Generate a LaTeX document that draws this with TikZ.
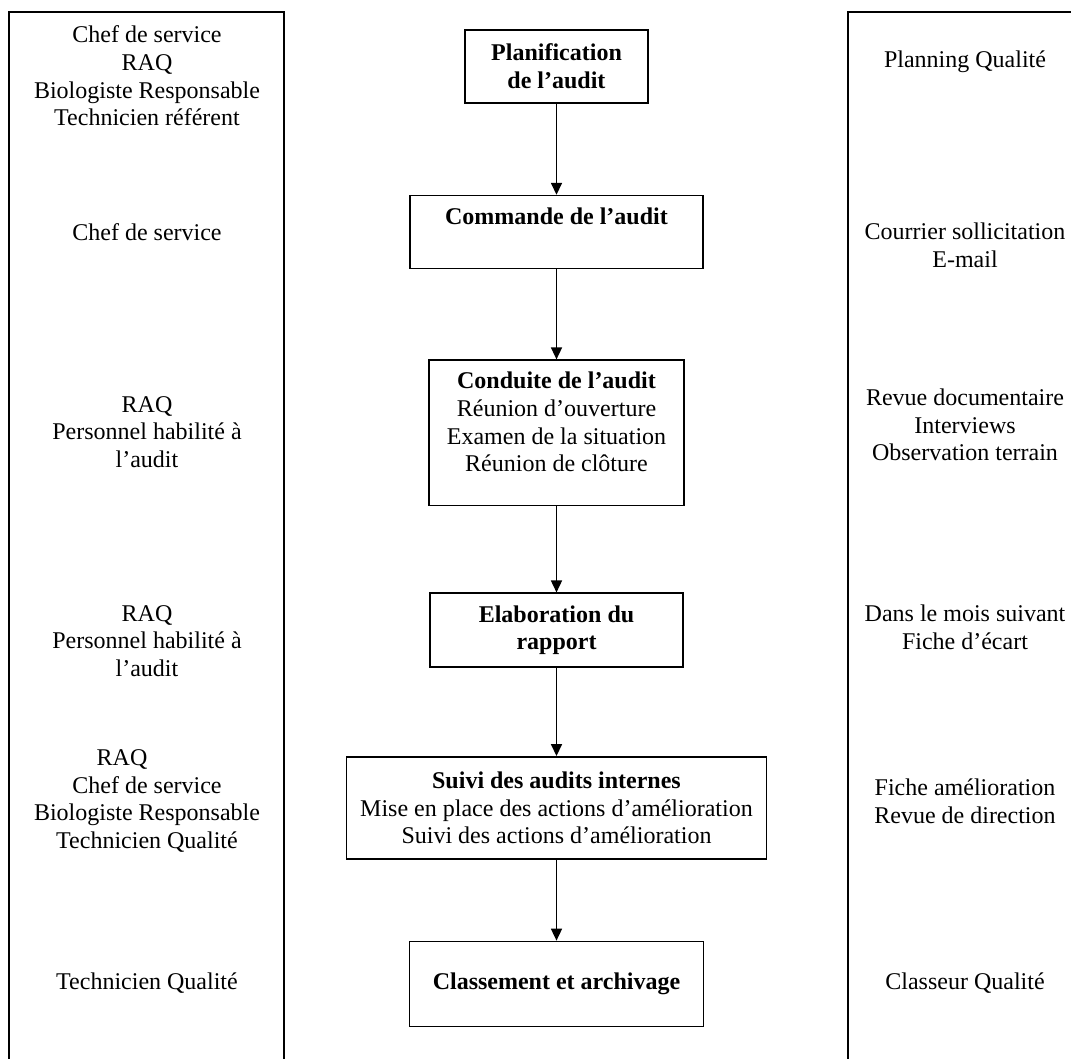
\documentclass[tikz,border=0pt]{standalone}
\usepackage{fontspec}
\setmainfont{Liberation Serif}
\usetikzlibrary{arrows.meta,positioning}
\tikzset{
    auditbox/.style={draw, line width=0.8pt, align=center, inner xsep=4pt, inner ysep=6pt},
    audittop/.style={auditbox, anchor=north},
    auditrole/.style={align=center, inner sep=1pt},
    auditdoc/.style={align=center, inner sep=1pt},
    auditframe/.style={line width=1pt},
    auditarrow/.style={-{Triangle[width=5.5pt,length=6pt]}, line width=0.8pt}
}
\begin{document}
\begin{tikzpicture}[x=0.5pt, y=-0.5pt, font=\fontsize{12}{13.8}\selectfont]
        \useasboundingbox (0,0) rectangle (1071,1059);
        % colonnes laterales
        \draw[auditframe] (9,1059) |- (284,12) -- (284,1059);
        \draw[auditframe] (1071,12) -| (848,1059);

        % etapes
        \node[auditbox, minimum width=91.5pt, minimum height=36.5pt] (plan) at (556.5,66.5) {\textbf{Planification}\\\textbf{de l’audit}};
        \node[audittop, minimum width=146.5pt, text height=8.5pt, text depth=16pt, below=45.5pt of plan] (commande) {\textbf{Commande de l’audit}};
        \node[audittop, minimum width=127.5pt, text depth=11pt, below=45pt of commande] (conduite) {\textbf{Conduite de l’audit}\\Réunion d’ouverture\\Examen de la situation\\Réunion de clôture};
        \node[auditbox, minimum width=126.5pt, minimum height=37pt, below=43pt of conduite] (rapport) {\textbf{Elaboration du}\\\textbf{rapport}};
        \node[auditbox, minimum width=210pt, minimum height=51pt, below=44pt of rapport] (suivi) {\textbf{Suivi des audits internes}\\Mise en place des actions d’amélioration\\Suivi des actions d’amélioration};
        \node[auditbox, minimum width=147pt, minimum height=42.5pt, below=40.5pt of suivi] (archivage) {\textbf{Classement et archivage}};

        % acteurs
        \node[auditrole] (role1) at (147,76) {Chef de service\\RAQ\\Biologiste Responsable\\Technicien référent};
        \node[auditrole] (role2) at (147,232) {Chef de service};
        \node[auditrole] (role3) at (147,432) {RAQ\\Personnel habilité à\\l’audit};
        \node[auditrole] (role4) at (147,641) {RAQ\\Personnel habilité à\\l’audit};
        \node[auditrole] (role5) at (147,801) {RAQ\hspace*{25pt}\\Chef de service\\Biologiste Responsable\\Technicien Qualité};
        \node[auditrole] (role6) at (147,983) {Technicien Qualité};

        % supports
        \node[auditdoc] (doc1) at (965,62) {Planning Qualité};
        \node[auditdoc] (doc2) at (965,245) {Courrier sollicitation\\E-mail};
        \node[auditdoc] (doc3) at (965,425) {Revue documentaire\\Interviews\\Observation terrain};
        \node[auditdoc] (doc4) at (965,627) {Dans le mois suivant\\Fiche d’écart};
        \node[auditdoc] (doc5) at (965,801) {Fiche amélioration\\Revue de direction};
        \node[auditdoc] (doc6) at (965,983) {Classeur Qualité};

        \draw[auditarrow] (plan) -- (commande);
        \draw[auditarrow] (commande) -- (conduite);
        \draw[auditarrow] (conduite) -- (rapport);
        \draw[auditarrow] (rapport) -- (suivi);
        \draw[auditarrow] (suivi) -- (archivage);
\end{tikzpicture}
\end{document}
